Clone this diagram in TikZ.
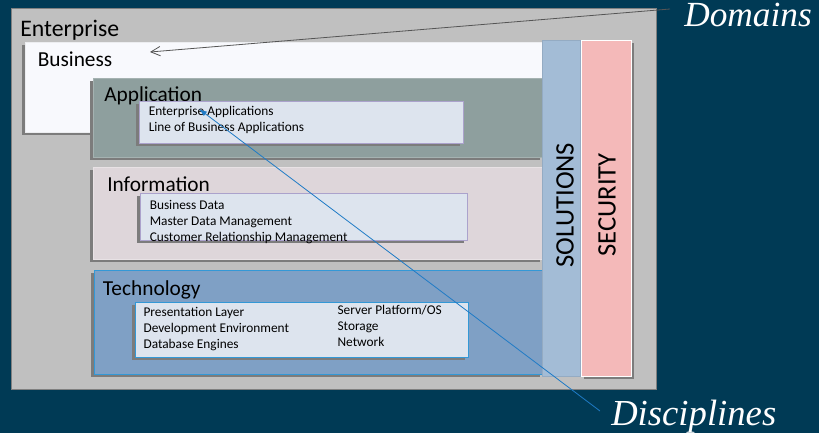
\documentclass[tikz,border=0pt]{standalone}
\usepackage{fontspec}
\setmainfont{Carlito}
\newfontfamily\seritfont{Liberation Serif}
\usetikzlibrary{fit,shadows,arrows.meta}
\definecolor{bgc}{HTML}{003A55}
\definecolor{entc}{HTML}{C0C0C0}
\definecolor{busc}{HTML}{F8F9FD}
\definecolor{appc}{HTML}{8E9F9E}
\definecolor{infc}{HTML}{DED6DA}
\definecolor{tecc}{HTML}{7FA0C5}
\definecolor{innc}{HTML}{DDE4EE}
\definecolor{solc}{HTML}{A3BCD6}
\definecolor{secc}{HTML}{F4B9B9}
\definecolor{shdc}{HTML}{7C7C7C}
\definecolor{bluec}{HTML}{3398D6}
\definecolor{purc}{HTML}{ABA2CC}
\definecolor{arrc}{HTML}{1F7BC6}
\definecolor{grayarr}{HTML}{555555}
\begin{document}
\begin{tikzpicture}[x=0.75pt,y=-0.75pt,
  area/.style={inner sep=0pt, outer sep=0pt, line width=0.75pt},
  shd/.style={drop shadow={shadow xshift=-2.25pt, shadow yshift=-2.25pt, opacity=1, fill=shdc}},
  shdr/.style={drop shadow={shadow xshift=2.25pt, shadow yshift=-2.25pt, opacity=1, fill=shdc}},
  biglbl/.style={anchor=base west, inner sep=0pt, font=\fontsize{16}{19}\selectfont, text=black},
  smalllbl/.style={anchor=base west, inner sep=0pt, font=\fontsize{10}{12}\selectfont, text=black},
  vlbl/.style={rotate=90, inner sep=0pt, font=\fontsize{20}{24}\selectfont, text=black},
  itlbl/.style={anchor=base west, inner sep=0pt, font=\seritfont\itshape\fontsize{27.5}{32}\selectfont, text=white}]
\fill[bgc] (0,0) rectangle (819,433);
\useasboundingbox (0,0) rectangle (819,433);
% Enterprise
\node[area, fit={(11,8)(656,389)}, fill=entc, draw=gray] (ent) {};
\node[biglbl, font=\fontsize{17.8}{21}\selectfont] (entl) at (20,36.7) {Enterprise};
% Business
\node[area, shd, fit={(25,42)(543,132)}, fill=busc, draw=busc!90!gray] (bus) {};
\node[biglbl] (busl) at (37.5,66.7) {Business};
% Application
\node[area, shd, fit={(93,78)(543,157)}, fill=appc, draw=appc!80!white] (app) {};
\node[biglbl] (appl) at (104,101.7) {Application};
\node[area, shd, fit={(139,101)(463,143)}, fill=innc, draw=purc] (appin) {};
\node[smalllbl] (ea) at (148.5,115) {Enterprise Applications};
\node[smalllbl] (lob) at (148.5,131) {Line of Business Applications};
% Information
\node[area, shd, fit={(93,167)(543,259)}, fill=infc, draw=infc!70!white] (inf) {};
\node[biglbl] (infl) at (107,191.7) {Information};
\node[area, shd, fit={(140,193)(467,240)}, fill=innc, draw=purc] (infin) {};
\node[smalllbl] (bd) at (149.5,209.3) {Business Data};
\node[smalllbl] (mdm) at (149.5,225.7) {Master Data Management};
\node[smalllbl] (crm) at (149.5,241) {Customer Relationship Management};
% Technology
\node[area, shd, fit={(94,270)(543,374)}, fill=tecc, draw=bluec] (tec) {};
\node[biglbl] (tecl) at (102.7,295) {Technology};
\node[area, shd, fit={(135,302)(468,357)}, fill=innc, draw=bluec] (tecin) {};
\node[smalllbl] (pl) at (143.3,316) {Presentation Layer};
\node[smalllbl] (de) at (143.3,332.7) {Development Environment};
\node[smalllbl] (dbe) at (143.3,348.3) {Database Engines};
\node[smalllbl] (spo) at (337.3,314) {Server Platform/OS};
\node[smalllbl] (sto) at (337.3,330.7) {Storage};
\node[smalllbl] (net) at (337.3,346) {Network};
% Solutions and Security
\node[area, fit={(542,40)(580,376)}, fill=solc, draw=solc!85!black!60!solc] (sol) {};
\node[vlbl] (soll) at (565,205) {SOLUTIONS};
\node[area, shdr, fit={(581,40)(631,376)}, fill=secc, draw=white] (sec) {};
\node[vlbl] (secl) at (607,205) {SECURITY};
% Domains / Disciplines
\node[itlbl, font=\seritfont\itshape\fontsize{26.5}{30}\selectfont] (dom) at (684,26.5) {Domains};
\node[itlbl] (disc) at (611,425) {Disciplines};
\coordinate (domtail) at (670,9);
\coordinate (domtip) at (150,52);
\coordinate (disctail) at (600,411);
\coordinate (disctip) at (199,109);
\draw[grayarr, line width=0.6pt, -{Straight Barb[length=7pt,width=7pt]}] (domtail) -- (domtip);
\draw[arrc, line width=0.6pt, -{Latex[length=6pt,width=4pt]}] (disctail) -- (disctip);
\end{tikzpicture}
\end{document}
